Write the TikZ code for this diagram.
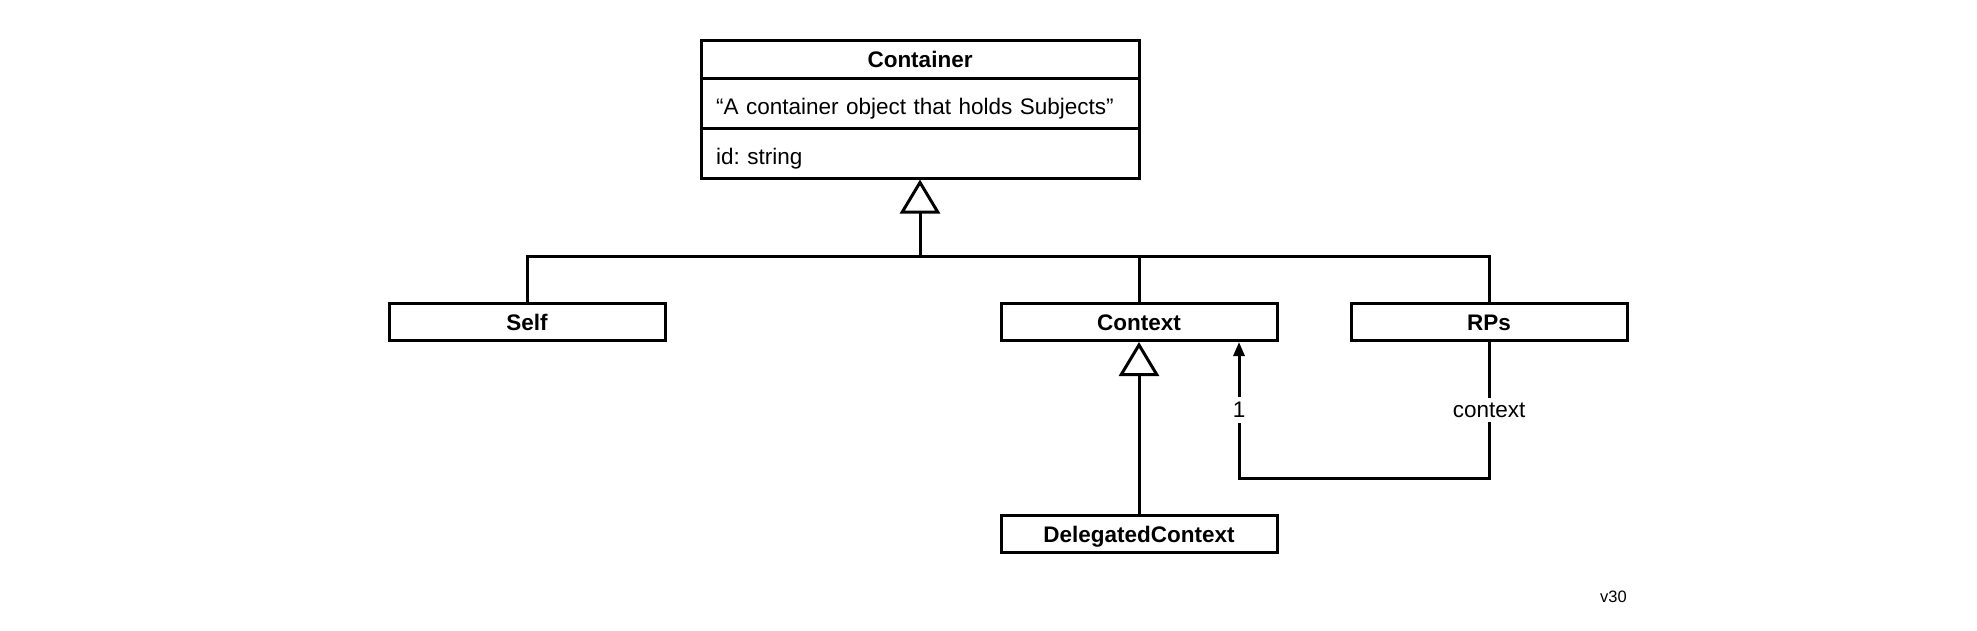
\documentclass[tikz,border=0pt]{standalone}
\usepackage{fontspec}
\setmainfont{Liberation Sans}
\usetikzlibrary{positioning,arrows.meta,calc}

\tikzset{
  uml/.style={draw,line width=3pt,inner sep=0pt,text depth=0pt},
  cls/.style={uml,minimum width=276pt,minimum height=37pt,text height=17pt,font=\fontsize{22.5}{26}\selectfont\bfseries},
  compartment/.style={uml,text width=408pt,inner xsep=15pt,align=left,minimum height=50pt,text height=22pt,font=\fontsize{22.5}{26}\selectfont\frenchspacing},
  link/.style={line width=3pt},
  inherit/.style={link,-{Triangle[open,length=34pt,width=40pt]}},
  assoc/.style={link,-{Triangle[length=14pt,width=11pt]}},
  lbl/.style={fill=white,inner xsep=1pt,inner ysep=5pt,font=\fontsize{22.5}{26}\selectfont}
}

\begin{document}
\begin{tikzpicture}[x=1pt,y=-1pt]
  \useasboundingbox (0,0) rectangle (1977,630);

  % Container with its three compartments
  \node[cls,minimum width=438pt,minimum height=38pt] (title) at (920,59) {Container};
  \node[compartment] (desc) at (920,103) {“A container object that holds Subjects”};
  \node[compartment] (attr) at (920,153) {id: string};

  \node[cls] (Self) at (527,322) {Self};
  \node[cls] (Context) at (1139,322) {Context};
  \node[cls] (RPs) at (1489,322) {RPs};
  \node[cls] (Delegated) at (1139,534) {DelegatedContext};

  \node[font=\fontsize{16.5}{19}\selectfont,anchor=east,inner sep=0pt] (version) at (1627,597) {v30};

  % generalisation
  \coordinate (bus) at (920,256);
  \draw[inherit] (bus) -- (attr.south);
  \draw[link] (Self.north) |- (bus) -| (RPs.north);
  \draw[link] (Context.north) -- (Context.north |- bus);
  \draw[inherit] (Delegated.north) -- (Context.south);

  % association
  \coordinate (bend) at (1239,478);
  \draw[assoc] (RPs.south) -- node[lbl]{context} (RPs.south |- bend) -- (bend) -- node[lbl]{1} (bend |- Context.south);
\end{tikzpicture}
\end{document}
